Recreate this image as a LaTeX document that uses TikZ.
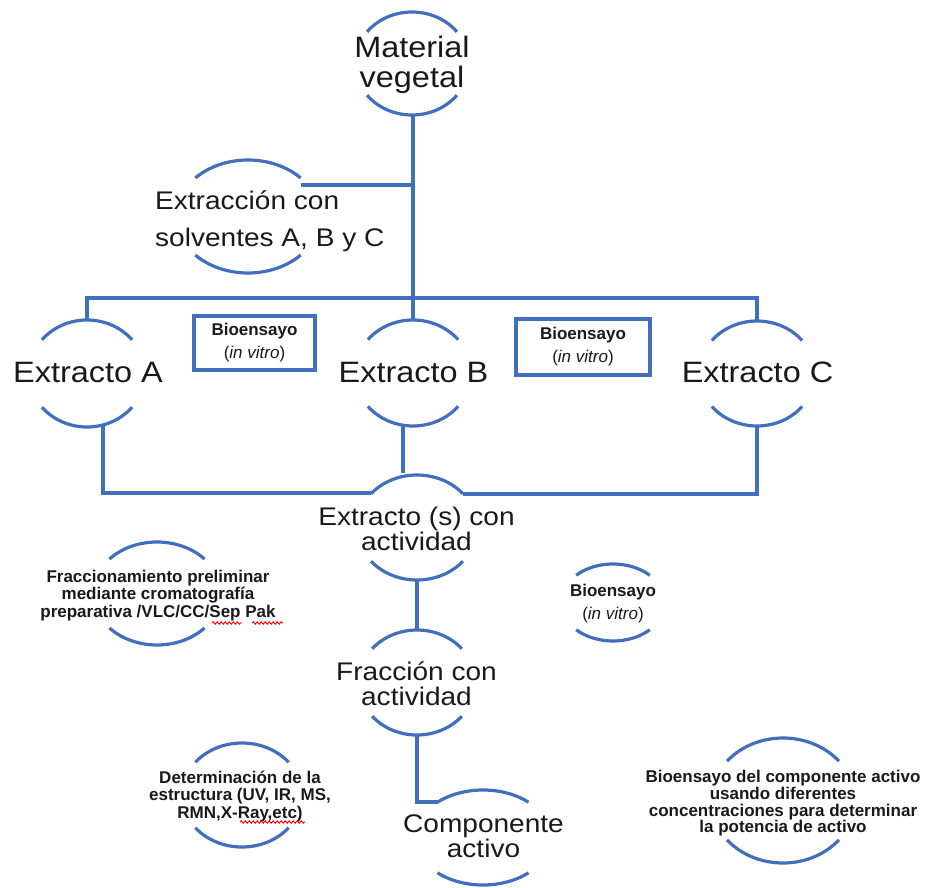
\documentclass[tikz,border=0pt]{standalone}
\usepackage{fontspec}
\setmainfont{Liberation Sans}
\newfontfamily\widefont[FakeStretch=1.1]{Liberation Sans}
\usetikzlibrary{decorations.pathmorphing}
\definecolor{lineblue}{RGB}{66,110,190}
\definecolor{textdark}{RGB}{25,25,25}
\newcommand\ringarcs[5]{%
  \pgfmathsetmacro\ringTa{180+#5}%
  \pgfmathsetmacro\ringTb{360-#5}%
  \pgfmathsetmacro\ringBb{180-#5}%
  \draw[ring] plot[domain=\ringTa:\ringTb,samples=40] ({#1+#3*cos(\x)},{#2+#4*sin(\x)});
  \draw[ring] plot[domain=#5:\ringBb,samples=40] ({#1+#3*cos(\x)},{#2+#4*sin(\x)});}
\tikzset{
  ring/.style={draw=lineblue, line width=3.2pt},
  conn/.style={draw=lineblue, line width=3.2pt},
  big/.style={font=\widefont\fontsize{29.5}{30}\selectfont, text=textdark, align=center, inner sep=0pt},
  mid/.style={font=\widefont\fontsize{25.5}{25}\selectfont, text=textdark, align=center, inner sep=0pt},
  small/.style={font=\bfseries\fontsize{17}{17.5}\selectfont, text=textdark, align=center, inner sep=0pt},
  assay/.style={font=\fontsize{17}{23}\selectfont, text=textdark, align=center, inner sep=0pt},
  assaybox/.style={draw=lineblue, line width=3.2pt, font=\fontsize{17}{23}\selectfont, text=textdark, align=center, inner sep=0pt},
  squig/.style={draw=red, line width=0.9pt, decorate, decoration={snake, amplitude=1.2pt, segment length=4pt}}
}
\begin{document}
\begin{tikzpicture}[x=1pt,y=-1pt]
\useasboundingbox (0,0) rectangle (927,888);
% rings (two arcs each)
\ringarcs{412}{63.5}{57}{51.5}{38}
\ringarcs{248}{216.5}{72}{56.5}{43}
\ringarcs{87}{373.5}{58}{53.5}{39}
\ringarcs{413}{373}{58}{53}{39}
\ringarcs{757}{373.5}{58}{52.5}{39}
\ringarcs{417}{527.5}{60}{52.5}{40}
\ringarcs{157}{593.5}{64}{51.5}{42}
\ringarcs{613}{602.5}{52}{38.5}{45}
\ringarcs{417}{682.5}{58.5}{52.5}{40}
\ringarcs{483}{837.5}{68}{47.5}{48}
\ringarcs{242}{795}{60}{52}{39}
\ringarcs{783}{800.5}{72}{62.5}{39}
% text nodes
\node[big] (mv) at (412,65) {Material\\vegetal};
\node[mid, align=left, anchor=west, font=\widefont\fontsize{25.5}{37}\selectfont] (ex) at (155,221) {Extracción con\\solventes A, B y C};
\node[big] (ea) at (88,372) {Extracto A};
\node[big] (eb) at (413.5,372) {Extracto B};
\node[big] (ec) at (757.5,372) {Extracto C};
\node[assaybox, minimum width=121pt, minimum height=54pt] (bx1) at (254.5,343) {\textbf{Bioensayo}\\(\textit{in vitro})};
\node[assaybox, minimum width=134pt, minimum height=56pt] (bx2) at (583,347) {\textbf{Bioensayo}\\(\textit{in vitro})};
\node[mid] (es) at (416.5,528.5) {Extracto (s) con\\actividad};
\node[small] (fp) at (158,595.5) {Fraccionamiento preliminar\\mediante cromatografía\\preparativa /VLC/CC/Sep Pak};
\node[assay] (bv) at (613,604) {\textbf{Bioensayo}\\(\textit{in vitro})};
\node[mid] (fa) at (416.5,683.5) {Fracción con\\actividad};
\node[mid] (ca) at (483.5,836.5) {Componente\\activo};
\node[small] (de) at (240,796.5) {Determinación de la\\estructura (UV, IR, MS,\\RMN,X-Ray,etc)};
\node[small, font=\bfseries\fontsize{17}{16.7}\selectfont] (bc) at (783,803.5) {Bioensayo del componente activo\\usando diferentes\\concentraciones para determinar\\la potencia de activo};
% connector points
\coordinate (mvS) at (413,115);
\coordinate (jTop) at (413,298);
\coordinate (exE) at (301,185);
\coordinate (exJ) at (413,185);
\coordinate (aN) at (87,320);
\coordinate (aT) at (87,298);
\coordinate (bN) at (413,320);
\coordinate (cN) at (757,321);
\coordinate (cT) at (757,298);
\coordinate (aS) at (103,425);
\coordinate (aL) at (103,493);
\coordinate (esW) at (371,493);
\coordinate (bS) at (403,425);
\coordinate (bL) at (403,473);
\coordinate (cS) at (757,426);
\coordinate (cL) at (757,494);
\coordinate (esE) at (463,494);
\coordinate (esS) at (417,580);
\coordinate (faN) at (417,630);
\coordinate (faS) at (417,735);
\coordinate (faL) at (417,802);
\coordinate (caW) at (438,802);
% connectors
\draw[conn] (mvS) -- (jTop);
\draw[conn] (exE) -- (exJ);
\draw[conn] (aN) -- (aT) -- (cT) -- (cN);
\draw[conn] (bN) -- (jTop);
\draw[conn] (aS) -- (aL) -- (esW);
\draw[conn] (bS) -- (bL);
\draw[conn] (cS) -- (cL) -- (esE);
\draw[conn] (esS) -- (faN);
\draw[conn] (faS) -- (faL) -- (caW);
% spell-check squiggles
\draw[squig] (212,623) -- (242,623);
\draw[squig] (252,623) -- (283,623);
\draw[squig] (240,822) -- (305,822);
\end{tikzpicture}
\end{document}
